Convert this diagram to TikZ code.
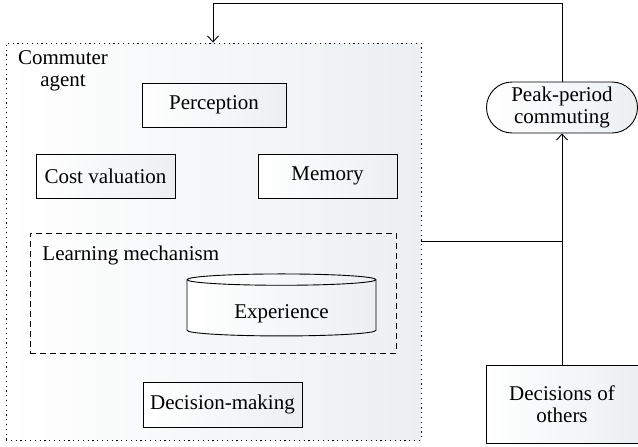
\documentclass[tikz,border=0pt]{standalone}
\usepackage{fontspec}
\setmainfont{Liberation Serif}
\usetikzlibrary{shapes.geometric,shapes.misc,arrows.meta}
\definecolor{bgg}{RGB}{236,239,241}
\begin{document}
\begin{tikzpicture}[x=1pt,y=-1pt,
  font=\fontsize{21}{22}\selectfont,
  line width=0.9pt,
  shadedfill/.style={left color=white, right color=bgg},
  box/.style={draw, rectangle, inner sep=0pt, shadedfill},
  >={Straight Barb[length=6pt,width=11pt]}]
\useasboundingbox (0,0) rectangle (638,447);
% outer agent box
\node[draw, rectangle, dash pattern=on 1.2pt off 3.6pt, minimum width=415pt, minimum height=397pt, inner sep=0pt, shadedfill] (agent) at (213.5,241.5) {};
\node[align=center, inner sep=0pt] (agentlbl) at (63,71) {Commuter\\agent};
% learning mechanism
\node[draw, rectangle, dash pattern=on 6pt off 4pt, minimum width=366pt, minimum height=120pt, inner sep=0pt] (learn) at (213,293) {};
\node[anchor=west, inner sep=0pt] (learnlbl) at (42,255) {Learning mechanism};
\node[cylinder, shape border rotate=90, draw, aspect=0.12, minimum width=189pt, minimum height=62pt, inner sep=0pt, shadedfill] (exp) at (281.5,308) {\raisebox{-10pt}[0pt][0pt]{Experience}};
% components
\node[box, minimum width=144pt, minimum height=44pt] (perc) at (214,105) {Perception};
\node[box, minimum width=139pt, minimum height=44pt] (cost) at (105.5,176) {Cost valuation};
\node[box, minimum width=139pt, minimum height=44pt] (mem) at (327.5,176) {Memory};
\node[box, minimum width=159pt, minimum height=45pt] (dm) at (222.5,404.5) {Decision-making};
% right side
\node[rounded rectangle, draw, align=center, minimum width=151pt, minimum height=51pt, inner sep=0pt, shadedfill] (peak) at (562,107.5) {Peak-period\\commuting};
\node[box, align=center, minimum width=152pt, minimum height=78pt] (dec) at (562,404) {Decisions of\\others};
% connectors
\coordinate (tc) at (213,3);
\draw[->] (peak.north) |- (tc) -- (tc |- agent.north);
\draw (agent.east) -- (agent.east -| peak.south);
\draw[->] (dec.north) -- (peak.south);
\end{tikzpicture}
\end{document}
